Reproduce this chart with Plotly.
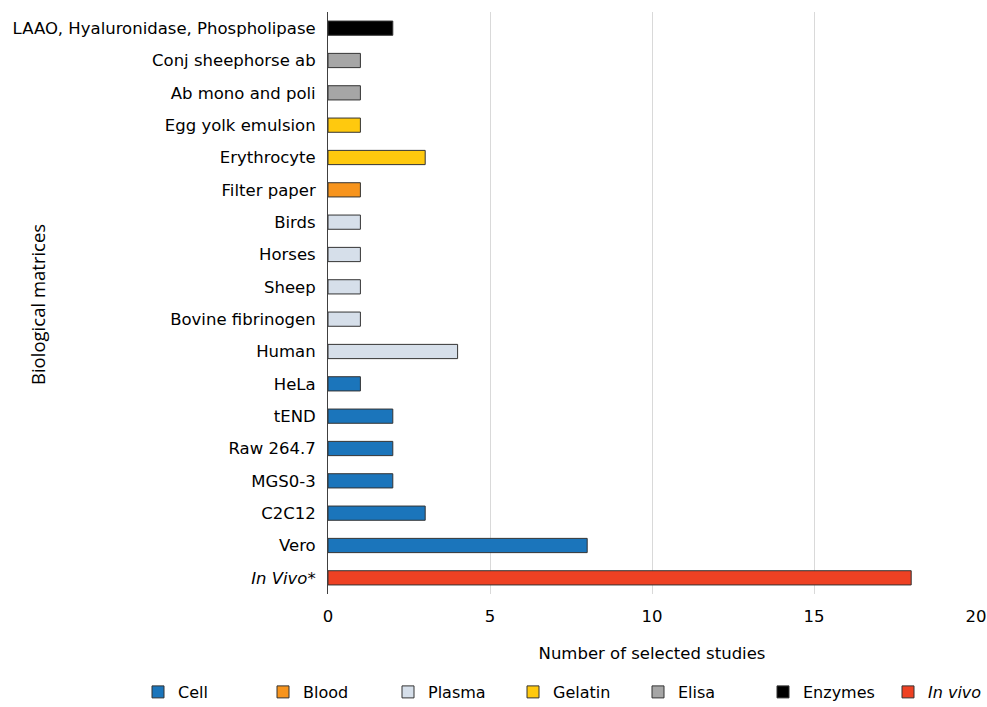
import plotly.graph_objects as go

# Biological matrices grouped by assay type
cell_labels = ["Vero", "C2C12", "MGS0-3", "Raw 264.7", "tEND", "HeLa"]
cell_values = [8, 3, 2, 2, 2, 1]

blood_labels = ["Filter paper"]
blood_values = [1]

plasma_labels = ["Human", "Bovine fibrinogen", "Sheep", "Horses", "Birds"]
plasma_values = [4, 1, 1, 1, 1]

gelatin_labels = ["Erythrocyte", "Egg yolk emulsion"]
gelatin_values = [3, 1]

elisa_labels = ["Ab mono and poli", "Conj sheephorse ab"]
elisa_values = [1, 1]

enzyme_labels = ["LAAO, Hyaluronidase, Phospholipase"]
enzyme_values = [2]

invivo_labels = ["<i>In Vivo</i>*"]
invivo_values = [18]

# bottom-to-top order of the category axis
category_order = (invivo_labels + cell_labels + plasma_labels + blood_labels
                  + gelatin_labels + elisa_labels + enzyme_labels)

groups = [
    ("Cell", cell_labels, cell_values, "#1B75BB"),
    ("Blood", blood_labels, blood_values, "#F7941D"),
    ("Plasma", plasma_labels, plasma_values, "#D6DFEA"),
    ("Gelatin", gelatin_labels, gelatin_values, "#FFC90E"),
    ("Elisa", elisa_labels, elisa_values, "#A6A6A6"),
    ("Enzymes", enzyme_labels, enzyme_values, "#000000"),
    ("<i>In vivo</i>", invivo_labels, invivo_values, "#EE4123"),
]

FONT = "DejaVu Sans"
FS = 16.5

L, R, T, B = 328, 11, 12, 113
W, H = 987, 707
plot_w = W - L - R
plot_h = H - T - B

fig = go.Figure()
for name, labels, values, color in groups:
    fig.add_trace(go.Bar(
        x=values, y=labels, name=name, orientation="h",
        width=0.44,
        marker=dict(color=color, line=dict(color="#333333", width=1)),
    ))

fig.update_layout(
    width=W, height=H,
    margin=dict(l=L, r=R, t=T, b=B, autoexpand=False),
    paper_bgcolor="white", plot_bgcolor="white",
    barmode="relative",
    font=dict(family=FONT, size=FS, color="#000000"),
    xaxis=dict(
        range=[0, 20], dtick=5, showgrid=True, gridcolor="#D9D9D9", gridwidth=1,
        zeroline=False, showline=False, ticks="", automargin=False,
        ticklabelstandoff=10, tickfont=dict(size=FS),
        title=dict(text="Number of selected studies", font=dict(size=FS), standoff=22),
    ),
    yaxis=dict(
        categoryorder="array", categoryarray=category_order,
        range=[-0.5, len(category_order) - 0.5],
        showline=True, linecolor="#404040", linewidth=1, automargin=False,
        ticks="", ticklabelstandoff=8,
        showgrid=False, tickfont=dict(size=FS),
    ),
    legend=dict(
        orientation="h", x=(138 - L) / plot_w, xanchor="left",
        y=(T + plot_h - 692) / plot_h, yanchor="middle",
        entrywidth=80, font=dict(size=16), traceorder="normal",
    ),
    annotations=[dict(
        text="Biological matrices", textangle=-90,
        x=(37 - L) / plot_w, xref="paper", xanchor="center",
        y=(305 - T) / plot_h, yref="paper", showarrow=False,
        font=dict(family="Open Sans", size=18.5),
    )],
)
fig.layout.annotations[0].y = 1 - (305 - T) / plot_h

fig.write_html("out.html")
